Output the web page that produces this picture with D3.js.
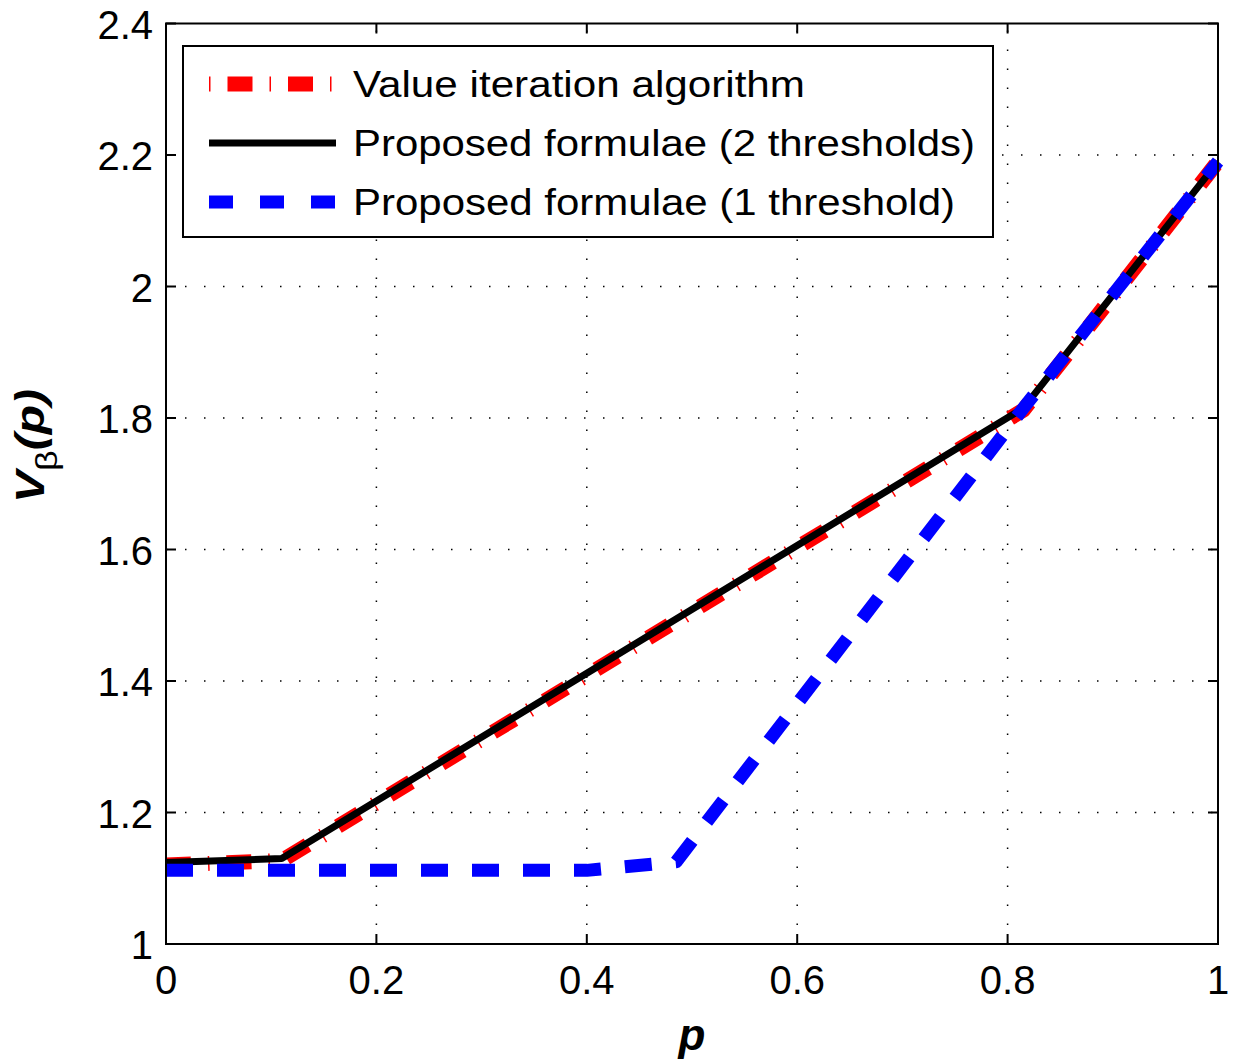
<!DOCTYPE html>
<html>
<head>
<meta charset="utf-8">
<script src="https://cdn.jsdelivr.net/npm/d3@7"></script>
<style>
  body { margin: 0; background: #fff; }
  text { font-family: "Liberation Sans", Arial, Helvetica, sans-serif; }
</style>
</head>
<body>
<div id="chart"></div>
<script>
// series
const pValueIter = [0, 0.11, 0.815, 1];
const vValueIter = [1.12, 1.127, 1.812, 2.19];
const pTwoThr = [0, 0.11, 0.815, 1];
const vTwoThr = [1.124, 1.13, 1.815, 2.19];
const pOneThr = [0, 0.4, 0.485, 0.815, 1];
const vOneThr = [1.112, 1.112, 1.125, 1.815, 2.19];

const xTicks = [0, 0.2, 0.4, 0.6, 0.8, 1];
const yTicks = [1, 1.2, 1.4, 1.6, 1.8, 2, 2.2, 2.4];
const legendLabels = ["Value iteration algorithm", "Proposed formulae (2 thresholds)", "Proposed formulae (1 threshold)"];

const width = 1233, height = 1064;
const marginLeft = 166, marginRight = 15, marginTop = 23.5, marginBottom = 120;

const x = d3.scaleLinear().domain([0, 1]).range([marginLeft, width - marginRight]);
const y = d3.scaleLinear().domain([1, 2.4]).range([height - marginBottom, marginTop]);

const svg = d3.select("#chart").append("svg")
    .attr("width", width)
    .attr("height", height)
    .attr("viewBox", [0, 0, width, height]);

// dotted grid
svg.append("g")
    .selectAll("line")
    .data(xTicks.slice(1, -1))
    .join("line")
    .attr("x1", d => x(d)).attr("x2", d => x(d))
    .attr("y1", y(1)).attr("y2", y(2.4))
    .attr("stroke", "#000").attr("stroke-width", 1.5)
    .attr("stroke-dasharray", "1.5,17.5");
svg.append("g")
    .selectAll("line")
    .data(yTicks.slice(1, -1))
    .join("line")
    .attr("x1", x(0)).attr("x2", x(1))
    .attr("y1", d => y(d)).attr("y2", d => y(d))
    .attr("stroke", "#000").attr("stroke-width", 1.5)
    .attr("stroke-dasharray", "1.5,17.5");

const line = d3.line().x(d => x(d[0])).y(d => y(d[1]));
const zip = (a, b) => a.map((v, i) => [v, b[i]]);

const series = [
    { label: legendLabels[0], pts: zip(pValueIter, vValueIter), color: "#ff0000", w: 15, dash: "25,17,1.5,17", legDash: "1.5,17,25,17", textLen: 452 },
    { label: legendLabels[1], pts: zip(pTwoThr, vTwoThr), color: "#000000", w: 7, dash: null, legDash: null, textLen: 622 },
    { label: legendLabels[2], pts: zip(pOneThr, vOneThr), color: "#0000ff", w: 13, dash: "27,24", legDash: "24,27", textLen: 602 }
];

svg.append("g")
    .selectAll("path")
    .data(series)
    .join("path")
    .attr("d", d => line(d.pts))
    .attr("fill", "none")
    .attr("stroke", d => d.color)
    .attr("stroke-width", d => d.w)
    .attr("stroke-dasharray", d => d.dash)
    .attr("stroke-linejoin", "round");

// axes box
const frame = svg.append("g");
frame.append("rect")
    .attr("x", x(0)).attr("y", y(2.4))
    .attr("width", x(1) - x(0)).attr("height", y(1) - y(2.4))
    .attr("fill", "none").attr("stroke", "#000").attr("stroke-width", 2);

// inward ticks on all four sides
const tl = 10;
xTicks.forEach(t => {
    frame.append("line").attr("x1", x(t)).attr("x2", x(t)).attr("y1", y(1)).attr("y2", y(1) - tl).attr("stroke", "#000").attr("stroke-width", 2);
    frame.append("line").attr("x1", x(t)).attr("x2", x(t)).attr("y1", y(2.4)).attr("y2", y(2.4) + tl).attr("stroke", "#000").attr("stroke-width", 2);
});
yTicks.forEach(t => {
    frame.append("line").attr("x1", x(0)).attr("x2", x(0) + tl).attr("y1", y(t)).attr("y2", y(t)).attr("stroke", "#000").attr("stroke-width", 2);
    frame.append("line").attr("x1", x(1)).attr("x2", x(1) - tl).attr("y1", y(t)).attr("y2", y(t)).attr("stroke", "#000").attr("stroke-width", 2);
});

// tick labels
svg.append("g")
    .selectAll("text")
    .data(xTicks)
    .join("text")
    .attr("x", d => x(d))
    .attr("y", y(1) + 50)
    .attr("text-anchor", "middle")
    .style("font-size", "40px")
    .text(d => d3.format("~g")(d));
svg.append("g")
    .selectAll("text")
    .data(yTicks)
    .join("text")
    .attr("x", x(0) - 13)
    .attr("y", d => y(d) + 15)
    .attr("text-anchor", "end")
    .style("font-size", "40px")
    .text(d => d3.format("~g")(d));

// axis labels
svg.append("text")
    .attr("x", x(0.5))
    .attr("y", 1050)
    .attr("text-anchor", "middle")
    .style("font-size", "44px")
    .style("font-weight", "bold")
    .style("font-style", "italic")
    .text("p");

const yl = svg.append("text")
    .attr("transform", "translate(44,446) rotate(-90) scale(1.2,1)")
    .attr("text-anchor", "middle")
    .style("font-size", "40px")
    .style("font-weight", "bold")
    .style("font-style", "italic");
yl.append("tspan").text("V");
yl.append("tspan").attr("dy", 13).style("font-size", "30px").style("font-weight", "normal").style("font-style", "normal").text("β");
yl.append("tspan").attr("dy", -13).text("(p)");

// legend
const leg = svg.append("g");
leg.append("rect")
    .attr("x", 183).attr("y", 46)
    .attr("width", 810).attr("height", 191)
    .attr("fill", "#fff").attr("stroke", "#000").attr("stroke-width", 2);
series.forEach((s, i) => {
    const cy = 84 + i * 59;
    leg.append("line")
        .attr("x1", 209).attr("x2", 336)
        .attr("y1", cy).attr("y2", cy)
        .attr("stroke", s.color)
        .attr("stroke-width", s.w)
        .attr("stroke-dasharray", s.legDash);
    leg.append("text")
        .attr("x", 353).attr("y", cy + 13)
        .attr("textLength", s.textLen)
        .attr("lengthAdjust", "spacingAndGlyphs")
        .style("font-size", "36px")
        .text(s.label);
});
</script>
</body>
</html>
